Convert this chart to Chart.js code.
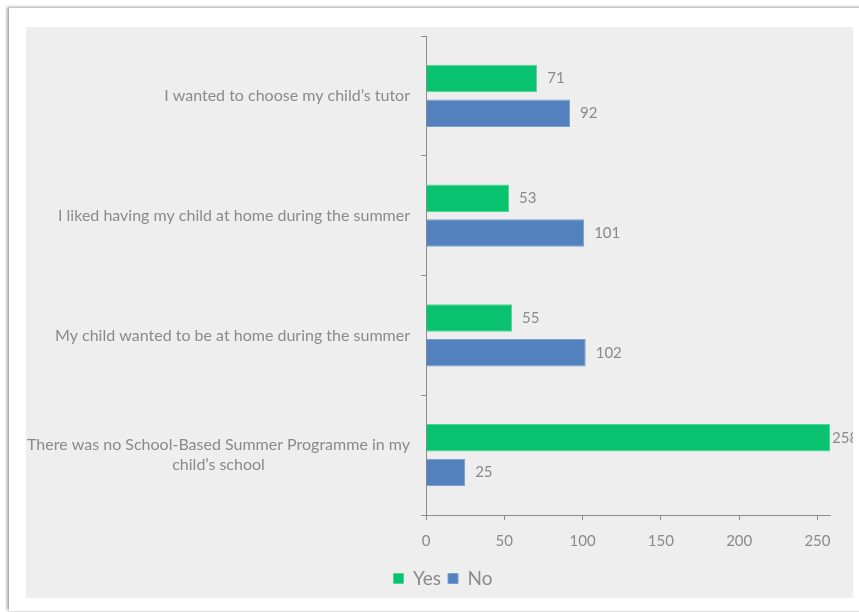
<!DOCTYPE html>
<html>
<head>
<meta charset="utf-8">
<script src="https://cdn.jsdelivr.net/npm/chart.js@4/dist/chart.umd.min.js"></script>
<style>
    html, body { margin: 0; padding: 0; background: #fff; overflow: hidden; }
    .card {
        position: absolute; left: 9px; top: 8px; width: 860px; height: 603px;
        background: #fff;
        box-shadow: -2px -1px 3px rgba(0, 0, 0, 0.35), 0 1px 2px rgba(0, 0, 0, 0.12);
    }
    .panel {
        position: absolute; left: 26px; top: 27px; width: 827px; height: 571px;
        background: #eeeeee;
    }
</style>
</head>
<body>
<div class="card"></div>
<div class="panel"><canvas id="reasons" width="827" height="571"></canvas></div>
<script>
// reasons for not taking part, one entry per line of the axis label
const reasons = [
    ["I wanted to choose my child\u2019s tutor"],
    ["I liked having my child at home during the summer"],
    ["My child wanted to be at home during the summer"],
    ["There was no School-Based Summer Programme in my", "child\u2019s school"]
];
const yesCounts = [71, 53, 55, 258];
const noCounts = [92, 101, 102, 25];
const xTicks = [0, 50, 100, 150, 200, 250];

const FONT = "Lato, 'Open Sans', sans-serif";
const GREY = '#8a8a8a';

// category labels: right aligned to the axis, extra lines centred under the widest one
const categoryLabels = {
    id: 'categoryLabels',
    afterDraw(chart) {
        const { ctx, chartArea, scales } = chart;
        const right = chartArea.left - 16;
        const lh = 20;
        ctx.save();
        ctx.font = '16px ' + FONT;
        ctx.fillStyle = GREY;
        ctx.textAlign = 'left';
        ctx.textBaseline = 'middle';
        reasons.forEach((lines, i) => {
            const widths = lines.map(l => ctx.measureText(l).width);
            const widest = Math.max(...widths);
            const top = scales.y.getPixelForValue(i) - (lines.length - 1) * lh / 2;
            lines.forEach((line, j) => {
                const x = right - widest / 2 - widths[j] / 2;
                ctx.fillText(line, x, top + j * lh);
            });
        });
        ctx.restore();
    }
};

// value printed after the end of each bar
const barValues = {
    id: 'barValues',
    afterDatasetsDraw(chart) {
        const { ctx, chartArea } = chart;
        ctx.save();
        ctx.font = '15px ' + FONT;
        ctx.fillStyle = GREY;
        ctx.textAlign = 'left';
        ctx.textBaseline = 'middle';
        chart.data.datasets.forEach((ds, di) => {
            chart.getDatasetMeta(di).data.forEach((bar, i) => {
                const x = Math.min(bar.x + 10, chartArea.right + 2);
                ctx.fillText(String(ds.data[i]), x, bar.y);
            });
        });
        ctx.restore();
    }
};

new Chart(document.getElementById('reasons'), {
    type: 'bar',
    data: {
        labels: reasons,
        datasets: [
            {
                label: 'Yes', data: yesCounts,
                backgroundColor: '#08c270', borderColor: '#4fd694', borderWidth: 1,
                categoryPercentage: 0.58, barPercentage: 0.79
            },
            {
                label: 'No', data: noCounts,
                backgroundColor: '#5381bd', borderColor: '#7a9ed0', borderWidth: 1,
                categoryPercentage: 0.58, barPercentage: 0.79
            }
        ]
    },
    plugins: [categoryLabels, barValues],
    options: {
        indexAxis: 'y',
        responsive: false,
        animation: false,
        layout: { padding: { top: 9, right: 23, left: 30, bottom: 0 } },
        plugins: {
            tooltip: { enabled: false },
            legend: {
                position: 'bottom',
                labels: {
                    color: GREY, boxWidth: 10, boxHeight: 10, padding: 7,
                    font: { family: FONT, size: 19 }
                }
            }
        },
        scales: {
            x: {
                min: 0, max: 258,
                afterBuildTicks: s => { s.ticks = xTicks.map(v => ({ value: v })); },
                ticks: { color: GREY, padding: 12, font: { family: FONT, size: 15 } },
                grid: { drawOnChartArea: false, color: '#8c8c8c', tickLength: 5 },
                border: { color: '#8c8c8c' }
            },
            y: {
                afterFit: s => { s.width = 370; },
                ticks: { display: false },
                grid: { drawOnChartArea: false, offset: true, color: '#8c8c8c', tickLength: 5 },
                border: { color: '#8c8c8c' }
            }
        }
    }
});
</script>
</body>
</html>
